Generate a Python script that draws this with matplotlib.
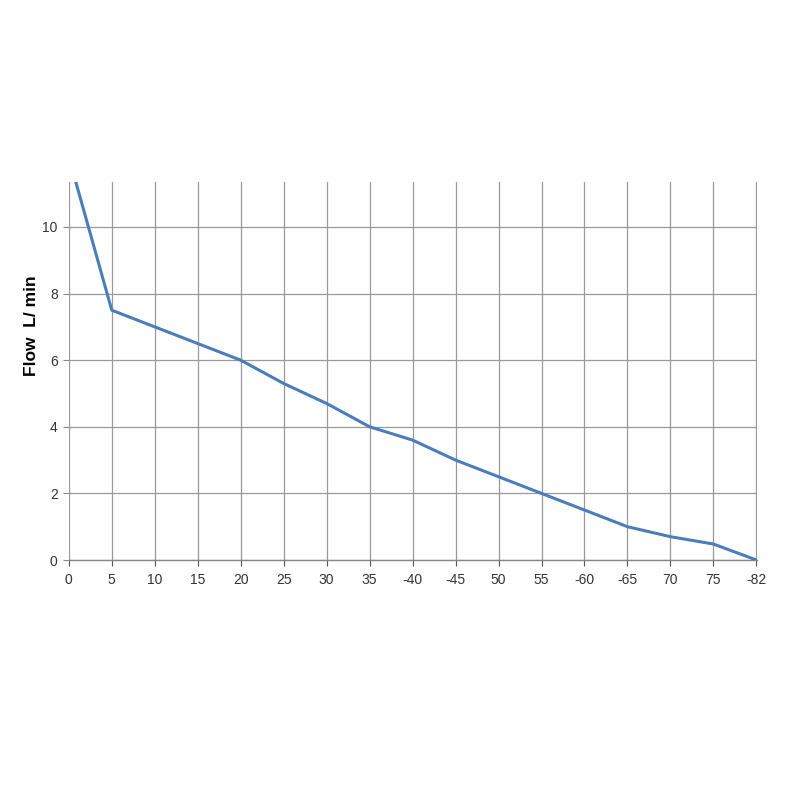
import numpy as np
import matplotlib
matplotlib.use('Agg')
import matplotlib.pyplot as plt

plt.rcParams['font.family'] = ['Liberation Sans Narrow', 'Liberation Sans', 'DejaVu Sans']

# pressure labels as printed on the chart (categorical axis)
pressure_labels = ['0', '5', '10', '15', '20', '25', '30', '35', '-40', '-45',
                   '50', '55', '-60', '-65', '70', '75', '-82']
flow = [12.1, 7.5, 7.0, 6.5, 6.0, 5.3, 4.7, 4.0, 3.6, 3.0,
        2.5, 2.0, 1.5, 1.0, 0.7, 0.48, 0.0]
y_ticks = [0, 2, 4, 6, 8, 10]

fig = plt.figure(figsize=(8, 8), dpi=100)
ax = fig.add_axes([0.086, 0.30, 0.86, 0.4725])

x = np.arange(len(pressure_labels))
ax.plot(x, flow, color='#4a7ebb', lw=2.2, solid_joinstyle='round', zorder=3)

ax.set_xlim(0, len(pressure_labels) - 1 + 0.01)
ax.set_ylim(0, 11.35)
ax.set_xticks(x)
ax.set_xticklabels(pressure_labels)
ax.set_yticks(y_ticks)
ax.tick_params(axis='both', labelsize=10, length=4, width=0.8)
ax.tick_params(axis='x', colors='#555555', labelcolor='#333333', pad=5)
ax.tick_params(axis='y', colors='#888888', labelcolor='#333333', pad=4)

ax.grid(True, color='#999999', lw=0.9)
ax.set_axisbelow(True)
for s in ['top', 'right', 'left']:
    ax.spines[s].set_visible(False)
ax.spines['bottom'].set_color('#888888')
ax.spines['bottom'].set_linewidth(1.0)

ax.set_ylabel('Flow  L/ min', fontsize=12.5, fontweight='bold',
              family=['Liberation Sans', 'DejaVu Sans'])
ax.yaxis.set_label_coords(-0.044, 0.62)

fig.savefig('out.png', dpi=100, facecolor='white')
